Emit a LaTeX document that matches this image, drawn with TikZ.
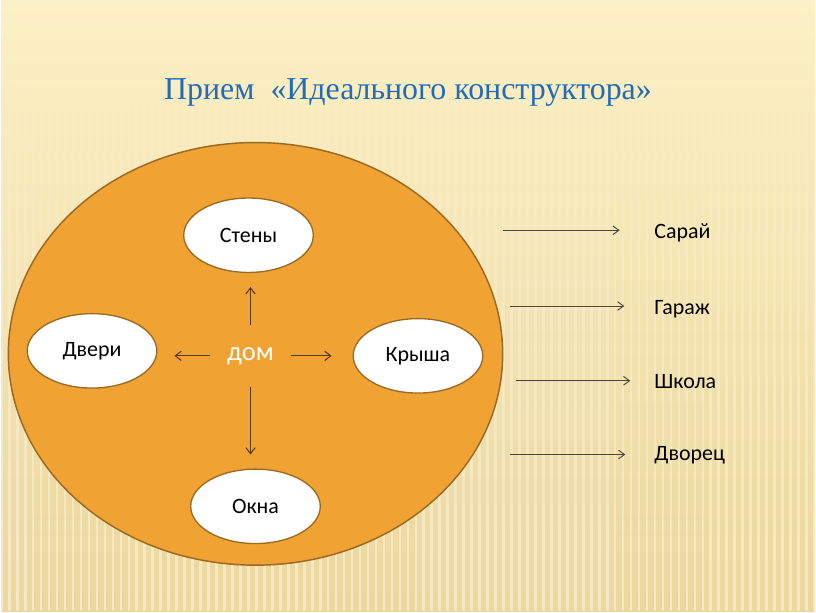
\documentclass[tikz,border=0pt]{standalone}
\usepackage{fontspec}
\setmainfont{Liberation Serif}
\newfontfamily\lblfont{Carlito}
\usetikzlibrary{shapes.geometric,arrows.meta,positioning,fadings}
\definecolor{bgtop}{HTML}{FCF0C6}
\definecolor{bgbot}{HTML}{ECD79C}
\definecolor{disc}{HTML}{F0A232}
\definecolor{discline}{HTML}{9A6A22}
\definecolor{titleblue}{HTML}{1F6DB8}
\definecolor{arrbrown}{HTML}{5A3A12}
\definecolor{arrgrey}{HTML}{4A4638}

\begin{document}
\begin{tikzpicture}[x=0.75pt, y=-0.75pt]
    \tikzset{
        part/.style     =   { ellipse
                            , draw=discline
                            , fill=white
                            , line width=1pt
                            , minimum width=97.5pt
                            , minimum height=56pt
                            , font=\lblfont\fontsize{16.5}{19}\selectfont
        }
        , result/.style =   { anchor=west
                            , inner sep=0pt
                            , font=\lblfont\fontsize{16.5}{19}\selectfont
        }
        , inarrow/.style =  { draw=arrbrown
                            , line width=0.8pt
                            , -{Straight Barb[length=4.5pt, width=7pt]}
        }
        , outarrow/.style = { draw=arrgrey
                            , line width=0.7pt
                            , -{Straight Barb[length=4.5pt, width=6.5pt]}
        }
    }
    % background
    \shade[top color=bgtop, bottom color=bgbot] (0,0) rectangle (816,613);
    \draw[white, opacity=0.45, line width=2pt, path fading=north]
        foreach \x in {0,8,...,816} { (\x,40) -- (\x,613) };
    \useasboundingbox (0,0) rectangle (816,613);

    \node(title)[text=titleblue, font=\fontsize{24}{28}\selectfont]
        at (408,93) {Прием \ «Идеального конструктора»};

    % big disc
    \draw[fill=disc, draw=discline, line width=1.1pt] (255,355) ellipse (248 and 212);

    \node(dom)[minimum width=60pt, minimum height=45.75pt, inner sep=0pt
              , text=white, font=\lblfont\fontsize{20}{24}\selectfont] at (250,357) {\raisebox{3pt}{дом}};
    \node(steny)[part]  at (248,236) {Стены};
    \node(dveri)[part]  at (91,352)  {Двери};
    \node(krysha)[part] at (418,357) {Крыша};
    \node(okna)[part]   at (255,508) {Окна};

    \draw[inarrow, shorten >=10.5pt] (dom) -- (dom |- steny.south);
    \draw[inarrow, shorten >=12.75pt] (dom) -- (dom -| dveri.east);
    \draw[inarrow, shorten >=15.75pt] (dom) -- (dom -| krysha.west);
    \draw[inarrow, shorten >=10.5pt] (dom) -- (dom |- okna.north);

    % results
    \node(saraj)[result]  at (655,234) {Сарай};
    \node(garazh)[result] at (655,310) {Гараж};
    \node(shkola)[result] at (655,383) {Школа};
    \node(dvorec)[result] at (655,457) {Дворец};

    \coordinate(a1) at (503,231);
    \coordinate(a2) at (510,307);
    \coordinate(a3) at (516,382);
    \coordinate(a4) at (510,456);

    \draw[outarrow, shorten >=26pt] (a1) -- (a1 -| saraj.west);
    \draw[outarrow, shorten >=22.5pt] (a2) -- (a2 -| garazh.west);
    \draw[outarrow, shorten >=18pt] (a3) -- (a3 -| shkola.west);
    \draw[outarrow, shorten >=21.75pt] (a4) -- (a4 -| dvorec.west);
\end{tikzpicture}
\end{document}
